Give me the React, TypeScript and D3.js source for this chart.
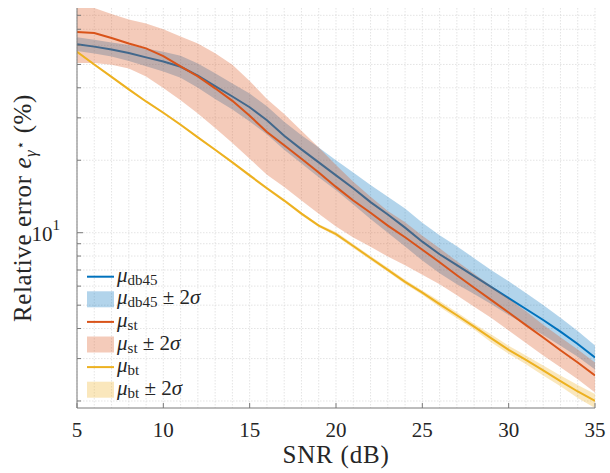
import React from 'react';
import * as d3 from 'd3';

const snrDb = [5, 6, 7, 8, 9, 10, 11, 12, 13, 14, 15, 16, 17, 18, 19, 20, 21, 22, 23, 24, 25, 26, 27, 28, 29, 30, 31, 32, 33, 34, 35];

const db45Mean = [60.7, 59.3, 57.7, 55.8, 53.5, 51.4, 48.9, 44.9, 40.6, 36.8, 33.2, 29.3, 25.3, 22.2, 19.6, 17.3, 15.3, 13.4, 11.9, 10.5, 9.18, 8.14, 7.33, 6.6, 5.94, 5.35, 4.82, 4.34, 3.88, 3.45, 3.03];
const db45Upper = [64.9, 63.4, 61.7, 60.2, 58.3, 56.5, 54.3, 50.4, 46.0, 41.7, 37.9, 33.5, 28.9, 25.4, 22.6, 20.0, 17.8, 15.8, 14.1, 12.6, 11.0, 9.76, 8.79, 7.84, 6.99, 6.29, 5.62, 5.01, 4.43, 3.91, 3.4];
const db45Lower = [56.8, 55.5, 54.0, 51.7, 49.1, 46.7, 44.0, 40.0, 35.9, 32.5, 29.0, 25.6, 22.1, 19.4, 17.0, 15.0, 13.1, 11.4, 10.0, 8.76, 7.66, 6.79, 6.11, 5.56, 5.05, 4.55, 4.14, 3.76, 3.39, 3.05, 2.7];

const stMean = [68.2, 67.5, 64.4, 61.1, 58.3, 54.2, 49.1, 44.6, 39.8, 35.3, 30.6, 26.2, 23.1, 20.3, 17.8, 15.5, 13.6, 12.1, 10.7, 9.58, 8.5, 7.54, 6.66, 5.91, 5.25, 4.66, 4.13, 3.67, 3.25, 2.89, 2.55];
const stUpper = [85.8, 85.7, 81.0, 76.9, 74.0, 70.1, 65.4, 61.1, 55.6, 49.8, 42.7, 35.9, 31.1, 26.5, 22.6, 19.1, 16.3, 14.1, 12.3, 11.06, 9.72, 8.62, 7.61, 6.76, 6.0, 5.33, 4.72, 4.15, 3.68, 3.27, 2.89];
const stLower = [50.7, 50.7, 49.8, 48.1, 44.6, 39.9, 35.5, 31.3, 27.2, 23.6, 20.3, 17.4, 15.5, 13.6, 12.0, 10.6, 9.55, 8.74, 7.96, 7.33, 6.69, 6.11, 5.5, 4.93, 4.42, 3.92, 3.48, 3.09, 2.76, 2.46, 2.17];

const btMean = [56.4, 50.0, 44.4, 39.4, 35.1, 31.5, 28.1, 24.9, 22.1, 19.6, 17.3, 15.3, 13.6, 12.0, 10.7, 9.87, 8.81, 7.85, 7.01, 6.25, 5.64, 5.05, 4.54, 4.07, 3.64, 3.26, 2.96, 2.68, 2.42, 2.19, 2.0];
const btUpper = [56.9, 50.5, 44.8, 39.8, 35.4, 31.8, 28.4, 25.1, 22.3, 19.8, 17.55, 15.5, 13.8, 12.17, 10.85, 10.06, 8.98, 8.0, 7.15, 6.37, 5.75, 5.2, 4.67, 4.19, 3.78, 3.39, 3.09, 2.81, 2.55, 2.33, 2.14];
const btLower = [55.9, 49.5, 44.0, 39.0, 34.8, 31.2, 27.8, 24.7, 21.9, 19.4, 17.05, 15.1, 13.4, 11.83, 10.55, 9.68, 8.64, 7.7, 6.88, 6.13, 5.53, 4.91, 4.41, 3.96, 3.5, 3.14, 2.84, 2.55, 2.3, 2.06, 1.87];

const xTicks = [5, 10, 15, 20, 25, 30, 35];
const xMinorGrid = [6, 7, 8, 9, 11, 12, 13, 14, 16, 17, 18, 19, 21, 22, 23, 24, 26, 27, 28, 29, 31, 32, 33, 34];
const yMajorTicks = [10];
const yMinorTicks = [2, 3, 4, 5, 6, 7, 8, 9, 20, 30, 40, 50, 60, 70, 80];

const C_BLUE = '#0072BD';
const C_RED = '#D95319';
const C_YEL = '#EDB120';

const FONT = '"Liberation Serif", "DejaVu Serif", serif';
const TXT = { fontFamily: FONT };

export default function App() {
  const L = 77, R = 595, T = 8, B = 408;
  const x = d3.scaleLinear().domain([5, 35]).range([L, R]);
  const y = d3.scaleLog().domain([1.87, 85.8]).range([B, T]);

  const line = (vals: number[]) =>
    d3.line<number>().x((_, i) => x(snrDb[i])).y((d) => y(d))(vals) || '';
  const area = (lo: number[], hi: number[]) =>
    d3.area<number>().x((_, i) => x(snrDb[i])).y0((_, i) => y(lo[i])).y1((d) => y(d))(hi) || '';

  const gridColor = '#d9d9d9';
  const legendItems = [
    { kind: 'line', color: C_BLUE, sub: 'db45', pm: false },
    { kind: 'box', color: C_BLUE, sub: 'db45', pm: true },
    { kind: 'line', color: C_RED, sub: 'st', pm: false },
    { kind: 'box', color: C_RED, sub: 'st', pm: true },
    { kind: 'line', color: C_YEL, sub: 'bt', pm: false },
    { kind: 'box', color: C_YEL, sub: 'bt', pm: true },
  ];

  return (
    <svg width={610} height={473} style={{ position: 'absolute', left: 0, top: 0, background: '#fff' }}>
      <defs>
        <clipPath id="plotclip">
          <rect x={L} y={T} width={R - L} height={B - T} />
        </clipPath>
      </defs>
      {/* grid */}
      <g stroke={gridColor} strokeWidth={0.7} strokeDasharray="1.5 1.5">
        {[...xTicks, ...xMinorGrid].map((v) => (
          <line key={'gx' + v} x1={x(v)} x2={x(v)} y1={T} y2={B} />
        ))}
        {[...yMajorTicks, ...yMinorTicks].map((v) => (
          <line key={'gy' + v} x1={L} x2={R} y1={y(v)} y2={y(v)} />
        ))}
      </g>
      <g clipPath="url(#plotclip)">
        <path d={area(db45Lower, db45Upper)} fill={C_BLUE} fillOpacity={0.3} />
        <path d={line(db45Mean)} fill="none" stroke={C_BLUE} strokeWidth={2} />
        <path d={area(stLower, stUpper)} fill={C_RED} fillOpacity={0.3} />
        <path d={line(stMean)} fill="none" stroke={C_RED} strokeWidth={2} />
        <path d={area(btLower, btUpper)} fill={C_YEL} fillOpacity={0.3} />
        <path d={line(btMean)} fill="none" stroke={C_YEL} strokeWidth={2} />
      </g>
      {/* axes */}
      <g stroke="#7a7a7a" strokeWidth={1}>
        <line x1={L} x2={L} y1={T} y2={B} />
        <line x1={L} x2={R} y1={B} y2={B} />
        {xTicks.map((v) => (
          <line key={'tx' + v} x1={x(v)} x2={x(v)} y1={B} y2={B - 5} />
        ))}
        {yMajorTicks.map((v) => (
          <line key={'ty' + v} x1={L} x2={L + 6} y1={y(v)} y2={y(v)} />
        ))}
        {yMinorTicks.map((v) => (
          <line key={'tym' + v} x1={L} x2={L + 4} y1={y(v)} y2={y(v)} />
        ))}
      </g>
      {/* tick labels */}
      <g fill="#262626" fontSize={21} textAnchor="middle" style={TXT}>
        {xTicks.map((v) => (
          <text key={'lx' + v} x={x(v)} y={437} style={TXT}>{v}</text>
        ))}
      </g>
      {yMajorTicks.map((v) => (
        <text key={'ly' + v} x={60} y={y(v) + 8} fontSize={21} fill="#262626" textAnchor="end" style={TXT}>
          10<tspan fontSize={15} dy={-11}>1</tspan>
        </text>
      ))}
      {/* axis labels */}
      <text x={336} y={463} fontSize={25} textAnchor="middle" fill="#262626" letterSpacing={0.8} style={TXT}>SNR (dB)</text>
      <text transform="translate(31,208) rotate(-90)" fontSize={25} textAnchor="middle" fill="#262626" letterSpacing={0.6} style={TXT}>
        Relative error <tspan fontStyle="italic">e</tspan>
        <tspan fontStyle="italic" fontSize={17} dy={5}>γ</tspan>
        <tspan fontSize={14} dy={-11} style={{ fontFamily: '"DejaVu Sans", sans-serif' }}>⋆</tspan>
        <tspan dy={6}>{'  (%)'}</tspan>
      </text>
      {/* legend */}
      <g>
        {legendItems.map((it, i) => {
          const cy = 276.7 + i * 22.6;
          return (
            <g key={'lg' + i}>
              {it.kind === 'line' ? (
                <line x1={87} x2={114} y1={cy} y2={cy} stroke={it.color} strokeWidth={2} />
              ) : (
                <rect x={87} y={cy - 8} width={27} height={16} fill={it.color} fillOpacity={0.3} />
              )}
              <text x={117} y={cy + 5} fontSize={21} fill="#262626" style={TXT}>
                <tspan fontStyle="italic">μ</tspan>
                <tspan fontSize={15} dy={3}>{it.sub}</tspan>
                {it.pm ? (
                  <tspan dy={-3}>
                    {' ± 2'}
                    <tspan fontStyle="italic">σ</tspan>
                  </tspan>
                ) : null}
              </text>
            </g>
          );
        })}
      </g>
    </svg>
  );
}
